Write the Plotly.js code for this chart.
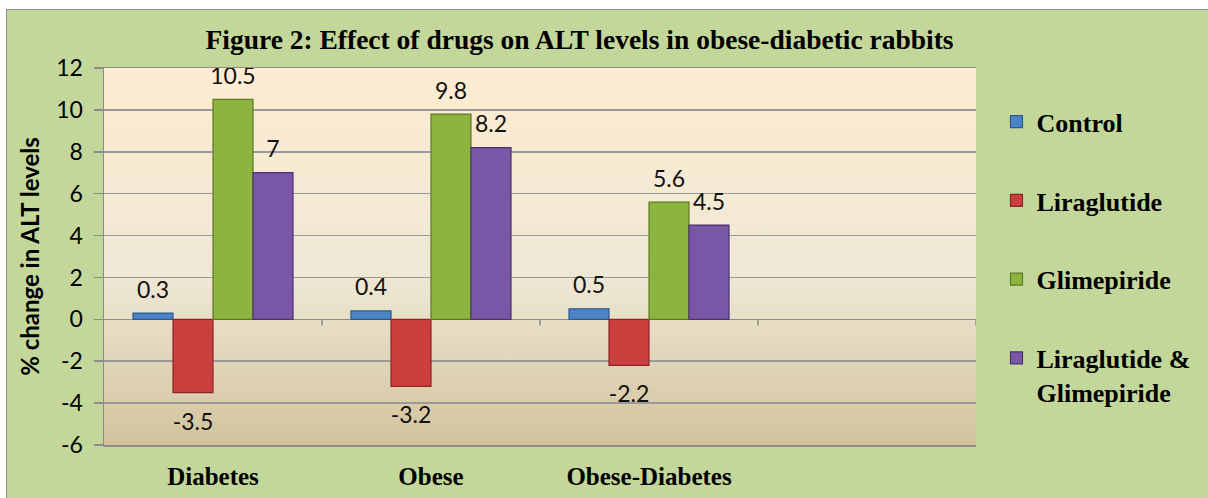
<!DOCTYPE html>
<html><head><meta charset="utf-8">
<script src="https://cdn.plot.ly/plotly-3.0.1.min.js"></script>
<style>
html,body{margin:0;padding:0;background:#fff;overflow:hidden;width:1208px;height:498px;}
#wrap{position:absolute;left:6px;top:9px;width:1210px;height:495px;border-left:1.5px solid #8f8f8f;border-top:1.5px solid #8f8f8f;background:#c4d79b;}
#chart{width:1201px;height:488px;}
</style></head><body>
<div id="wrap"><div id="chart"></div></div>
<script>
const categories = ["Diabetes", "Obese", "Obese-Diabetes"];
const emptySlot = " ";
const seriesNames = ["Control", "Liraglutide", "Glimepiride", "Liraglutide &<br>Glimepiride"];
const control = [0.3, 0.4, 0.5];
const liraglutide = [-3.5, -3.2, -2.2];
const glimepiride = [10.5, 9.8, 5.6];
const combination = [7, 8.2, 4.5];
const yTicks = [-6, -4, -2, 0, 2, 4, 6, 8, 10, 12];

const seriesValues = [control, liraglutide, glimepiride, combination];
const fills = ["#4a84c4", "#cc3f3f", "#8db43e", "#7a57a6"];
const edges = ["#2b5a90", "#8a2626", "#5d7a26", "#4a3371"];

const barTraces = seriesValues.map((vals, i) => ({
  type: "bar",
  name: seriesNames[i],
  legendgroup: "g" + i,
  offsetgroup: "o" + i,
  x: categories,
  y: vals,
  marker: {color: fills[i], line: {color: edges[i], width: 1.2}},
  hoverinfo: "x+y+name"
}));

const labelTraces = seriesValues.map((vals, i) => ({
  type: "scatter",
  mode: "markers+text",
  showlegend: false,
  legendgroup: "g" + i,
  offsetgroup: "o" + i,
  x: categories,
  y: vals,
  text: vals.map(v => String(v)),
  textposition: vals.map(v => v < 0 ? "bottom center" : "top center"),
  cliponaxis: false,
  marker: {size: vals.map(v => v < 0 ? 30 : 14), opacity: 0, color: fills[i]},
  textfont: {family: "Lato, sans-serif", size: 23, color: "#111"},
  hoverinfo: "skip"
}));

const bgSvg = '<svg xmlns="http://www.w3.org/2000/svg" width="10" height="100" preserveAspectRatio="none">' +
  '<defs><linearGradient id="g" x1="0" y1="0" x2="0" y2="1">' +
  '<stop offset="0" stop-color="#fdecd1"/><stop offset="0.55" stop-color="#efe8d5"/><stop offset="1" stop-color="#d3c39d"/>' +
  '</linearGradient></defs><rect width="10" height="100" fill="url(#g)"/></svg>';

const boundaryShapes = categories.concat([emptySlot]).map((c, i) => ({
  type: "line", xref: "x", yref: "y",
  x0: i + 0.5, x1: i + 0.5, y0: 0, y1: -0.3,
  line: {color: "#8c8c8c", width: 1.5}
}));

const layout = {
  width: 1201, height: 488,
  margin: {l: 97, r: 232, t: 58, b: 53},
  paper_bgcolor: "rgba(0,0,0,0)",
  plot_bgcolor: "rgba(0,0,0,0)",
  barmode: "group",
  scattermode: "group",
  bargap: 0.266,
  scattergap: 0.266,
  bargroupgap: 0,
  title: {
    text: "Figure 2: Effect of drugs on ALT levels in obese-diabetic rabbits",
    font: {family: "Liberation Serif, serif", size: 27.5, color: "#000", weight: "bold"},
    x: 0.4767, xref: "container", xanchor: "center",
    y: 0.9395, yref: "container", yanchor: "middle"
  },
  xaxis: {
    type: "category",
    categoryorder: "array",
    categoryarray: categories.concat([emptySlot]),
    range: [-0.5, 3.5],
    showgrid: false,
    zeroline: false,
    showline: true, mirror: true,
    linecolor: "#8c8c8c", linewidth: 1.5,
    ticks: "",
    ticklabelstandoff: 8,
    tickfont: {family: "Liberation Serif, serif", size: 25, color: "#000", weight: "bold"}
  },
  yaxis: {
    range: [-6, 12],
    tickvals: yTicks,
    ticktext: yTicks.map(String),
    showgrid: true, gridcolor: "#9a9a9a", gridwidth: 1.5,
    zeroline: true, zerolinecolor: "#8c8c8c", zerolinewidth: 1.5,
    showline: true, linecolor: "#8c8c8c", linewidth: 1.5,
    ticks: "outside", ticklen: 9, tickcolor: "#8c8c8c", tickwidth: 1.5,
    ticklabelstandoff: 6,
    tickfont: {family: "Lato, sans-serif", size: 23, color: "#000"},
    title: {
      text: "% change in ALT levels",
      font: {family: "Lato, sans-serif", size: 24, color: "#000", weight: "bold"},
      standoff: 10
    }
  },
  showlegend: true,
  legend: {
    x: 1.0235, xanchor: "left",
    y: 0.92, yanchor: "top",
    bgcolor: "rgba(0,0,0,0)",
    font: {family: "Liberation Serif, serif", size: 26, color: "#000", weight: "bold"},
    tracegroupgap: 42,
    valign: "top",
    traceorder: "grouped"
  },
  images: [{
    source: "data:image/svg+xml;charset=utf-8," + encodeURIComponent(bgSvg),
    xref: "paper", yref: "paper", x: 0, y: 1, sizex: 1, sizey: 1,
    sizing: "stretch", xanchor: "left", yanchor: "top", layer: "below"
  }],
  shapes: boundaryShapes
};

Plotly.newPlot("chart", barTraces.concat(labelTraces), layout, {displayModeBar: false, staticPlot: true});
</script>
</body></html>
